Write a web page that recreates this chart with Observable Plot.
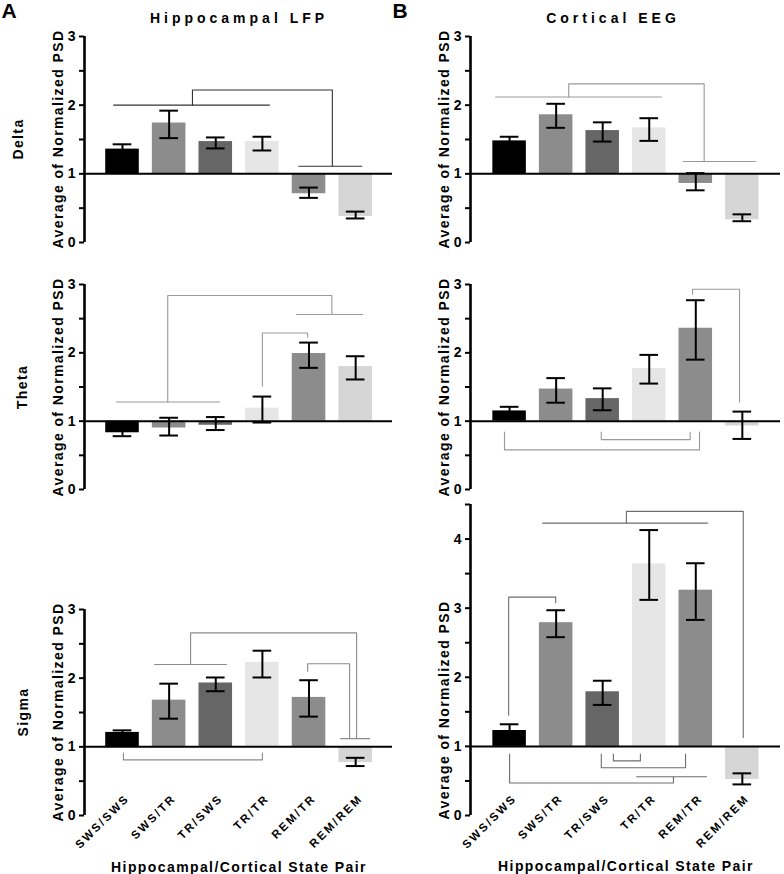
<!DOCTYPE html>
<html><head><meta charset="utf-8">
<script src="https://cdn.jsdelivr.net/npm/d3@7"></script>
<script src="https://cdn.jsdelivr.net/npm/@observablehq/plot@0.6"></script>
<style>
body{margin:0;background:#fff;}
#c{position:relative;width:784px;height:874px;overflow:hidden;font-family:"Liberation Sans",Arial,sans-serif;font-weight:bold;color:#000;}
#c svg{position:absolute;overflow:visible;}
.lab{position:absolute;white-space:nowrap;transform:translate(-50%,-50%);font-size:14px;letter-spacing:1.4px;line-height:1;}
.rot{transform:translate(-50%,-50%) rotate(-90deg);}
.ttl{letter-spacing:4px;}
.big{font-size:21px;letter-spacing:0;}
g[aria-label="x-axis tick label"] text{letter-spacing:2.2px;}
</style>
</head><body>
<div id="c"></div>
<script>
const categories = ["SWS/SWS","SWS/TR","TR/SWS","TR/TR","REM/TR","REM/REM"];
const palette = ["#000000","#8c8c8c","#666666","#e6e6e6","#8c8c8c","#d6d6d6"];
const ticks3 = [0,1,2,3];
const minor3 = [0.5,1.5,2.5];
const ticks45 = [0,1,2,3,4];
const minor45 = [0.5,1.5,2.5,3.5,4.5];

// Delta
const deltaHippMean = [1.36,1.74,1.47,1.47,0.71,0.38];
const deltaHippLow  = [1.29,1.52,1.37,1.34,0.65,0.35];
const deltaHippHigh = [1.43,1.92,1.53,1.54,0.80,0.45];
const deltaCortMean = [1.48,1.86,1.63,1.67,0.86,0.33];
const deltaCortLow  = [1.42,1.67,1.47,1.48,0.76,0.31];
const deltaCortHigh = [1.54,2.02,1.75,1.81,1.01,0.41];
// Theta
const thetaHippMean = [0.83,0.90,0.94,1.19,1.99,1.80];
const thetaHippLow  = [0.78,0.79,0.87,0.98,1.78,1.61];
const thetaHippHigh = [0.88,1.05,1.06,1.36,2.15,1.95];
const thetaCortMean = [1.15,1.47,1.33,1.77,2.36,0.93];
const thetaCortLow  = [1.09,1.27,1.16,1.55,1.90,0.74];
const thetaCortHigh = [1.21,1.63,1.48,1.97,2.77,1.14];
// Sigma
const sigmaHippMean = [1.21,1.68,1.93,2.23,1.72,0.77];
const sigmaHippLow  = [1.18,1.41,1.81,2.01,1.44,0.72];
const sigmaHippHigh = [1.24,1.92,2.01,2.40,1.97,0.84];
const sigmaCortMean = [1.23,2.79,1.79,3.64,3.26,0.52];
const sigmaCortLow  = [1.14,2.58,1.60,3.12,2.83,0.45];
const sigmaCortHigh = [1.32,2.97,1.95,4.13,3.65,0.61];

// significance brackets: polylines in (category index, value) units
const deltaHippBrackets = [
  [[-0.19,2.0],[3.15,2.0]],
  [[1.5,2.0],[1.5,2.22],[4.5,2.22],[4.5,1.11]],
  [[3.78,1.11],[5.13,1.11]]
];
const deltaCortBrackets = [
  [[-0.30,2.12],[3.26,2.12]],
  [[1.27,2.12],[1.27,2.31],[4.18,2.31],[4.18,1.18]],
  [[3.73,1.18],[5.28,1.18]]
];
const thetaHippBrackets = [
  [[-0.13,1.28],[2.08,1.28]],
  [[0.97,1.28],[0.97,2.84],[4.49,2.84],[4.49,2.56]],
  [[3.73,2.56],[5.15,2.56]],
  [[3.0,1.51],[3.0,2.29],[3.97,2.29],[3.97,2.23]]
];
const thetaCortBrackets = [
  [[3.93,2.86],[3.93,2.93],[4.94,2.93],[4.94,1.28]],
  [[-0.11,0.84],[-0.11,0.58],[4.08,0.58],[4.08,0.84]],
  [[1.97,0.84],[1.97,0.73],[3.88,0.73],[3.88,0.84]]
];
const sigmaHippBrackets = [
  [[0.69,2.20],[2.23,2.20]],
  [[1.46,2.20],[1.46,2.66],[5.02,2.66],[5.02,1.12]],
  [[4.68,1.12],[5.30,1.12]],
  [[3.97,2.10],[3.97,2.21],[4.87,2.21],[4.87,1.12]],
  [[0.02,0.91],[0.02,0.81],[3.0,0.81],[3.0,0.91]]
];
const sigmaCortBrackets = [
  [[0.71,4.23],[4.25,4.23]],
  [[2.51,4.23],[2.51,4.40],[5.02,4.40],[5.02,1.13]],
  [[-0.02,1.45],[-0.02,3.16],[0.99,3.16],[0.99,3.08]],
  [[1.97,0.89],[1.97,0.69],[3.78,0.69],[3.78,0.89]],
  [[2.23,0.89],[2.23,0.79],[2.81,0.79],[2.81,0.89]],
  [[0,0.89],[0,0.47],[3.52,0.47],[3.52,0.56]],
  [[2.73,0.56],[4.23,0.56]]
];

const FONT = '"Liberation Sans", Arial, sans-serif';
const root = document.getElementById("c");

function panel(o) {
  const bars = categories.map((c, i) => ({i, c, mean: o.mean[i], low: o.low[i], high: o.high[i], color: palette[i]}));
  const br = o.brackets.flatMap((pts, k) => pts.map(([x, y]) => ({k, x, y})));
  const marks = [
    Plot.rect(bars, {x1: d => d.i - 0.36, x2: d => d.i + 0.36, y1: () => 1, y2: "mean", fill: "color"}),
    Plot.line(br, {x: "x", y: "y", z: "k", stroke: o.bracketColor, strokeWidth: 1.1}),
    Plot.ruleX(bars, {x: "i", y1: "low", y2: "high", stroke: "#000", strokeWidth: 2}),
    Plot.ruleY(bars, {y: "low", x1: d => d.i - 0.2, x2: d => d.i + 0.2, stroke: "#000", strokeWidth: 2}),
    Plot.ruleY(bars, {y: "high", x1: d => d.i - 0.2, x2: d => d.i + 0.2, stroke: "#000", strokeWidth: 2}),
    Plot.ruleY([1], {stroke: "#000", strokeWidth: 2}),
    Plot.ruleX([o.xDomain[0]], {y1: 0, y2: o.yMax, stroke: "#000", strokeWidth: 2.6}),
    Plot.axisY({ticks: o.major, tickFormat: d => String(d), tickSize: 5, tickPadding: 4, strokeWidth: 2, fontSize: 14, fontWeight: "bold", label: null}),
    Plot.axisY({ticks: o.minor, tickSize: 5, strokeWidth: 2, tickFormat: () => "", label: null})
  ];
  if (o.showX) marks.push(Plot.axisX({ticks: [0,1,2,3,4,5], tickFormat: i => categories[i], tickRotate: -45, tickSize: 0, tickPadding: 0, dx: 5, dy: -19, fontSize: 11.5, fontWeight: "bold", label: null}));
  const svg = Plot.plot({
    width: o.width, height: o.marginTop + o.inner + o.marginBottom,
    marginLeft: o.marginLeft, marginRight: o.marginRight, marginTop: o.marginTop, marginBottom: o.marginBottom,
    style: {background: "transparent", fontFamily: FONT, color: "#000", overflow: "visible"},
    x: {domain: o.xDomain, axis: o.showX ? undefined : null},
    y: {domain: [0, o.yMax]},
    color: {type: "identity"},
    marks
  });
  svg.style.left = o.left + "px";
  svg.style.top = o.top + "px";
  root.appendChild(svg);
}

const L = {left: 0, width: 392, marginLeft: 84, marginRight: 0, xDomain: [-0.815, 5.79]};
const R = {left: 392, width: 392, marginLeft: 78, marginRight: 4, xDomain: [-0.84, 5.82]};
const row1 = {top: 0, marginTop: 36, inner: 206, marginBottom: 10, yMax: 3, major: ticks3, minor: minor3};
const row2 = {top: 248, marginTop: 36, inner: 205, marginBottom: 10, yMax: 3, major: ticks3, minor: minor3};

panel({...L, ...row1, mean: deltaHippMean, low: deltaHippLow, high: deltaHippHigh, brackets: deltaHippBrackets, bracketColor: "#333"});
panel({...R, ...row1, mean: deltaCortMean, low: deltaCortLow, high: deltaCortHigh, brackets: deltaCortBrackets, bracketColor: "#999"});
panel({...L, ...row2, mean: thetaHippMean, low: thetaHippLow, high: thetaHippHigh, brackets: thetaHippBrackets, bracketColor: "#999"});
panel({...R, ...row2, mean: thetaCortMean, low: thetaCortLow, high: thetaCortHigh, brackets: thetaCortBrackets, bracketColor: "#999"});
panel({...L, top: 573, marginTop: 36, inner: 206, marginBottom: 59, yMax: 3, major: ticks3, minor: minor3, showX: true,
  mean: sigmaHippMean, low: sigmaHippLow, high: sigmaHippHigh, brackets: sigmaHippBrackets, bracketColor: "#8a8a8a"});
panel({...R, top: 468, marginTop: 36, inner: 311, marginBottom: 59, yMax: 4.5, major: ticks45, minor: minor45, showX: true,
  mean: sigmaCortMean, low: sigmaCortLow, high: sigmaCortHigh, brackets: sigmaCortBrackets, bracketColor: "#6e6e6e"});

function label(text, x, y, cls) {
  const d = document.createElement("div");
  d.className = "lab " + (cls || "");
  d.textContent = text;
  d.style.left = x + "px";
  d.style.top = y + "px";
  root.appendChild(d);
}
label("A", 9, 10, "big");
label("B", 400, 10, "big");
label("Hippocampal LFP", 239, 18, "ttl");
label("Cortical EEG", 613, 18, "ttl");
label("Delta", 18, 139, "rot");
label("Theta", 22, 387, "rot");
label("Sigma", 23, 712, "rot");
const yLab = "Average of Normalized PSD";
label(yLab, 58, 139, "rot");
label(yLab, 58, 387, "rot");
label(yLab, 58, 712, "rot");
label(yLab, 444, 139, "rot");
label(yLab, 444, 387, "rot");
label(yLab, 444, 710, "rot");
label("Hippocampal/Cortical State Pair", 239, 867);
label("Hippocampal/Cortical State Pair", 626, 866);
</script>
</body></html>
